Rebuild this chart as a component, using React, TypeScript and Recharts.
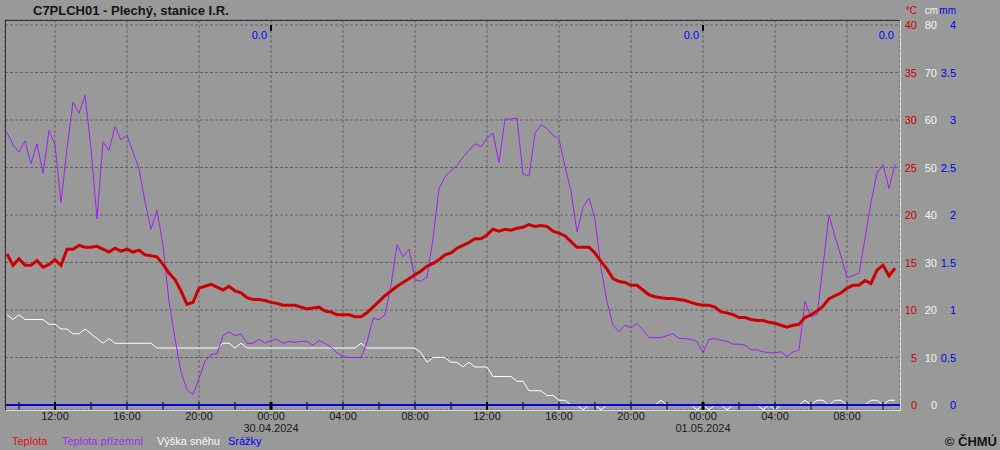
import React from 'react';
import { ComposedChart, Line, XAxis, YAxis, CartesianGrid, ReferenceLine } from 'recharts';

// readings every 20 minutes, first one 29.04.2024 09:20 (hours counted from 29.04. 00:00)
const START_HOUR = 9 + 20 / 60;
const STEP_HOUR = 20 / 60;

// Teplota (°C)
const teplota = [
  15.9, 14.7, 15.4, 14.7, 14.7, 15.2, 14.5, 14.8, 15.3, 14.7,
  16.4, 16.4, 16.8, 16.6, 16.6, 16.7, 16.4, 16.1, 16.5, 16.2,
  16.4, 16.1, 16.3, 15.8, 15.7, 15.6, 14.8, 13.9, 13.2, 12.0,
  10.6, 10.8, 12.3, 12.5, 12.7, 12.4, 12.1, 12.5, 12.0, 11.8,
  11.3, 11.1, 11.1, 11.0, 10.8, 10.7, 10.5, 10.5, 10.5, 10.3,
  10.1, 10.2, 10.3, 9.9, 9.8, 9.5, 9.5, 9.5, 9.3, 9.3,
  9.7, 10.3, 10.9, 11.5, 12.0, 12.5, 12.9, 13.3, 13.7, 14.1,
  14.6, 14.9, 15.3, 15.8, 16.0, 16.5, 16.8, 17.1, 17.5, 17.5,
  17.9, 18.5, 18.3, 18.5, 18.4, 18.6, 18.7, 19.0, 18.8, 18.9,
  18.8, 18.3, 18.1, 17.8, 17.2, 16.6, 16.6, 16.6, 16.0, 15.1,
  14.3, 13.3, 13.0, 12.9, 12.6, 12.6, 12.1, 11.6, 11.4, 11.3,
  11.2, 11.2, 11.1, 11.0, 10.8, 10.6, 10.5, 10.5, 10.3, 9.8,
  9.7, 9.5, 9.2, 9.2, 9.0, 8.9, 8.9, 8.7, 8.6, 8.4,
  8.2, 8.4, 8.5, 9.2, 9.5, 9.9, 10.4, 11.2, 11.5, 11.8,
  12.3, 12.6, 12.6, 13.1, 12.8, 14.2, 14.7, 13.6, 14.4,
];

// Teplota přízemní (°C)
const teplotaPrizemni = [
  28.7, 27.4, 26.6, 27.8, 25.4, 27.5, 24.4, 28.9, 27.4, 21.3,
  27.0, 31.9, 30.7, 32.6, 27.0, 19.6, 27.7, 26.8, 29.3, 27.9,
  28.4, 26.6, 24.9, 21.4, 18.5, 20.5, 16.8, 10.9, 7.0, 3.5,
  1.6, 1.1, 2.8, 4.6, 5.3, 5.4, 7.3, 7.7, 7.3, 7.5,
  6.5, 6.5, 6.9, 6.5, 6.8, 6.9, 6.5, 6.7, 6.6, 6.7,
  6.7, 6.3, 6.8, 6.5, 6.1, 5.5, 5.1, 5.0, 5.0, 5.0,
  6.6, 9.1, 9.0, 9.5, 12.6, 16.9, 15.6, 16.4, 13.2, 13.0,
  13.5, 17.5, 22.8, 24.0, 24.7, 25.2, 26.1, 26.8, 27.5, 27.2,
  28.1, 28.6, 25.5, 30.1, 30.1, 30.2, 24.3, 24.1, 28.6, 29.5,
  29.1, 28.4, 28.0, 25.1, 22.5, 18.2, 20.8, 21.8, 19.6, 14.4,
  10.9, 8.4, 7.7, 8.4, 8.1, 8.6, 7.9, 7.1, 7.1, 7.1,
  7.3, 7.5, 7.0, 7.0, 6.9, 6.7, 5.5, 6.9, 7.0, 6.8,
  6.7, 6.4, 6.4, 6.3, 5.8, 5.8, 5.6, 5.5, 5.5, 5.6,
  5.1, 5.6, 5.8, 10.9, 9.3, 9.5, 14.6, 20.0, 17.7, 15.7,
  13.4, 13.6, 13.9, 17.5, 21.3, 24.4, 25.3, 22.8, 25.3,
];

// Výška sněhu (cm)
const vyskaSnehu = [
  19, 18, 19, 18, 18, 18, 18, 17, 17, 16,
  16, 15, 15, 16, 15, 14, 13, 14, 13, 13,
  13, 13, 13, 13, 13, 12, 12, 12, 12, 12,
  12, 12, 12, 12, 12, 12, 13, 13, 12, 13,
  12, 12, 12, 12, 12, 12, 12, 12, 12, 12,
  12, 12, 12, 12, 12, 12, 12, 12, 12, 13,
  12, 12, 12, 12, 12, 12, 12, 12, 12, 11,
  9, 10, 10, 10, 9, 9, 8, 9, 8, 8,
  8, 6, 6, 6, 6, 5, 5, 3, 3, 3,
  2, 2, 1, 1, 0, 0, -1, 0, 0, -1,
  0, 0, 0, 0, 0, 0, 0, 0, 0, 1,
  0, 0, 0, 0, 0, -1, 0, -1, 0, 0,
  -1, 0, 0, 0, 0, 0, -1, 0, -1, 0,
  0, 0, 0, 1, 0, 1, 1, 0, 1, 1,
  0, 0, 0, 0, 1, 1, 0, 1, 1,
];

// Srážky (mm), hourly from 09:00 on 29.04.
const SRAZKY_START = 9;
const srazky = [
  0, 0, 0, 0, 0, 0, 0, 0, 0, 0, 0, 0, 0, 0, 0, 0, 0,
  0, 0, 0, 0, 0, 0, 0, 0, 0, 0, 0, 0, 0, 0, 0, 0, 0,
  0, 0, 0, 0, 0, 0, 0, 0, 0, 0, 0, 0, 0, 0, 0, 0, 0,
];

// daily precipitation sums shown at the end of each day
const dailySums = ['0.0', '0.0', '0.0'];
const dailySumHours = [24, 48, 58.83];
const dayBreaks = [24, 48];

const xTicks = [12, 16, 20, 24, 28, 32, 36, 40, 44, 48, 52, 56];
const tickMarks = [10, 12, 14, 16, 18, 20, 22, 24, 26, 28, 30, 32, 34, 36, 38, 40, 42, 44, 46, 48, 50, 52, 54, 56, 58];
const dates: { [h: number]: string } = { 24: '30.04.2024', 48: '01.05.2024' };
const tempTicks = [0, 5, 10, 15, 20, 25, 30, 35, 40];
const cmTicks = [0, 10, 20, 30, 40, 50, 60, 70, 80];
const mmTicks = [0, 0.5, 1, 1.5, 2, 2.5, 3, 3.5, 4];

const FONT = '"Liberation Sans", Arial, sans-serif';
const BG = '#999999';
const RED = '#cc0000';
const PURPLE = '#a020f0';
const BLUE = '#0000ee';

const data = teplota.map((t, i) => ({
  hour: START_HOUR + i * STEP_HOUR,
  teplota: t,
  prizemni: teplotaPrizemni[i],
  snih: vyskaSnehu[i],
}));
const precipData = srazky.map((p, i) => ({ hour: SRAZKY_START + i, srazky: p }));

const pad = (n: number) => (n < 10 ? '0' + n : '' + n);

const TimeTick = (props: any) => {
  const { x, y, payload } = props;
  const h = payload.value;
  return (
    <g>
      <text x={x} y={y + 10} textAnchor="middle" fill="#1a1a1a" fontSize={11} fontFamily={FONT}>
        {pad(h % 24) + ':00'}
      </text>
      {dates[h] && (
        <text x={x} y={y + 22} textAnchor="middle" fill="#1a1a1a" fontSize={11} fontFamily={FONT}>
          {dates[h]}
        </text>
      )}
    </g>
  );
};

const ValueTick = (props: any) => {
  const { x, y, payload, color, dx } = props;
  return (
    <text x={x + dx} y={y + 4} textAnchor="end" fill={color} fontSize={11} fontFamily={FONT}>
      {payload.value}
    </text>
  );
};

const DaySumLabel = (props: any) => {
  const { viewBox, value } = props;
  if (!viewBox) return null;
  return (
    <text x={viewBox.x - 4} y={viewBox.y + 19} textAnchor="end" fill="#0000ff" fontSize={11} fontFamily={FONT}>
      {value}
    </text>
  );
};

// axis ids: a = °C, b = cm, c = mm (right-hand axes are laid out in this order)
export default function App() {
  return (
    <div style={{ position: 'absolute', left: 0, top: 0, width: 1000, height: 450, background: BG, overflow: 'hidden' }}>
      <ComposedChart width={1000} height={450} data={data} margin={{ top: 20, right: 40, bottom: 10, left: 5 }}>
        <CartesianGrid yAxisId="a" stroke="#626262" strokeDasharray="3 2" />
        <XAxis
          dataKey="hour"
          type="number"
          domain={[12 - 50 / 18, 12 + 845 / 18]}
          allowDataOverflow
          ticks={xTicks}
          interval={0}
          tick={<TimeTick />}
          tickLine={false}
          axisLine={false}
          tickSize={0}
          tickMargin={0}
          height={30}
        />
        <YAxis
          yAxisId="a"
          orientation="right"
          domain={[-10 / 19, 40 + 10 / 19]}
          allowDataOverflow
          ticks={tempTicks}
          interval={0}
          width={20}
          tick={<ValueTick color={RED} dx={17} />}
          tickLine={false}
          axisLine={false}
          tickSize={0}
          tickMargin={0}
        />
        <YAxis
          yAxisId="b"
          orientation="right"
          domain={[-20 / 19, 80 + 20 / 19]}
          allowDataOverflow
          ticks={cmTicks}
          interval={0}
          width={20}
          tick={<ValueTick color="#f4f4f4" dx={17} />}
          tickLine={false}
          axisLine={false}
          tickSize={0}
          tickMargin={0}
        />
        <YAxis
          yAxisId="c"
          orientation="right"
          domain={[-1 / 19, 4 + 1 / 19]}
          allowDataOverflow
          ticks={mmTicks}
          interval={0}
          width={20}
          tick={<ValueTick color={BLUE} dx={16} />}
          tickLine={false}
          axisLine={false}
          tickSize={0}
          tickMargin={0}
        />

        {dailySums.map((s, i) => (
          <ReferenceLine
            key={'sum' + i}
            yAxisId="a"
            x={dailySumHours[i]}
            stroke="none"
            label={<DaySumLabel value={s} />}
          />
        ))}
        {dayBreaks.map((h) => (
          <ReferenceLine
            key={'top' + h}
            yAxisId="a"
            segment={[{ x: h, y: 40 }, { x: h, y: 39.4 }]}
            stroke="#000"
            strokeWidth={2}
            ifOverflow="visible"
          />
        ))}

        <Line yAxisId="b" dataKey="snih" stroke="#ffffff" strokeWidth={1} dot={false} activeDot={false} isAnimationActive={false} />
        <Line yAxisId="a" dataKey="prizemni" stroke={PURPLE} strokeWidth={1} dot={false} activeDot={false} isAnimationActive={false} />
        <Line yAxisId="a" dataKey="teplota" stroke={RED} strokeWidth={3} dot={false} activeDot={false} isAnimationActive={false} />
        <Line yAxisId="c" data={precipData} dataKey="srazky" stroke={BLUE} strokeWidth={2} dot={false} activeDot={false} isAnimationActive={false} />

        {tickMarks.map((h) => (
          <ReferenceLine
            key={'tick' + h}
            yAxisId="a"
            segment={[{ x: h, y: 0.32 }, { x: h, y: -0.5 }]}
            stroke="#000"
            strokeWidth={h % 24 === 0 ? 3 : h % 12 === 0 ? 2 : 1}
            ifOverflow="visible"
          />
        ))}
      </ComposedChart>

      <svg width={1000} height={450} style={{ position: 'absolute', left: 0, top: 0, pointerEvents: 'none' }}>
        <line x1={5.5} y1={20} x2={5.5} y2={410} stroke="#303030" />
        <line x1={5} y1={20.5} x2={900} y2={20.5} stroke="#303030" />
        <line x1={900.5} y1={20} x2={900.5} y2={411} stroke="#dcdcdc" />
        <line x1={6} y1={410.5} x2={901} y2={410.5} stroke="#dcdcdc" />

        <text x={33} y={15} fontFamily={FONT} fontSize={13} fontWeight="bold" fill="#141414">
          C7PLCH01 - Plechý, stanice I.R.
        </text>

        <text x={917} y={14} textAnchor="end" fontFamily={FONT} fontSize={10} fill={RED}>°C</text>
        <text x={938} y={14} textAnchor="end" fontFamily={FONT} fontSize={10} fill="#f4f4f4">cm</text>
        <text x={956} y={14} textAnchor="end" fontFamily={FONT} fontSize={10} fill={BLUE}>mm</text>

        <text x={12} y={445} fontFamily={FONT} fontSize={11} fill="#e01010">Teplota</text>
        <text x={62} y={445} fontFamily={FONT} fontSize={11} fill="#a030e8">Teplota přízemní</text>
        <text x={157} y={445} fontFamily={FONT} fontSize={11} fill="#f8f8f8">Výška sněhu</text>
        <text x={228} y={445} fontFamily={FONT} fontSize={11} fill="#0000ff">Srážky</text>

        <text x={997} y={446} textAnchor="end" fontFamily={FONT} fontSize={13} fontWeight="bold" fill="#141414">
          © ČHMÚ
        </text>
      </svg>
    </div>
  );
}
